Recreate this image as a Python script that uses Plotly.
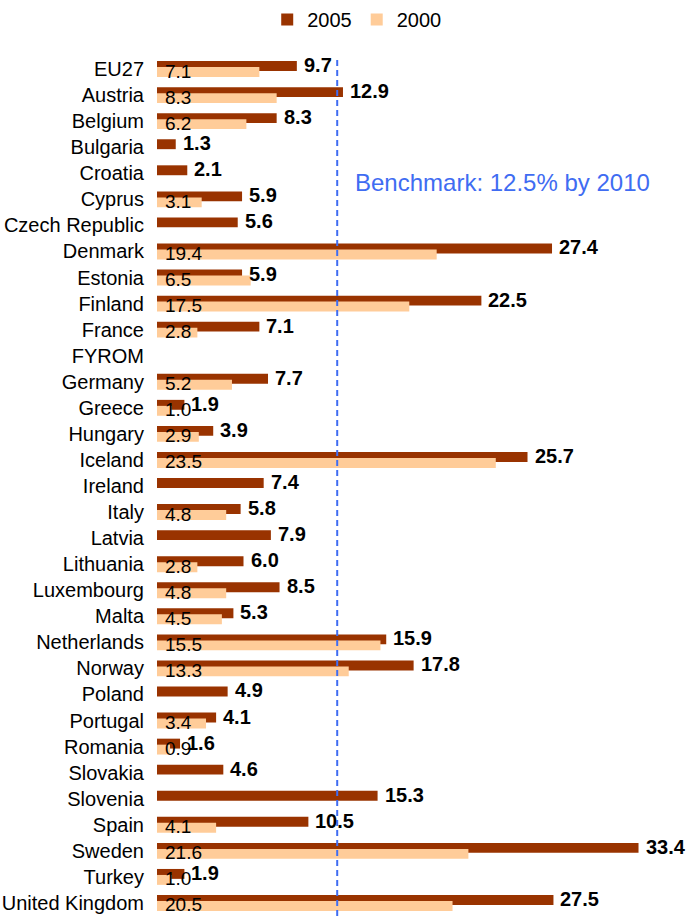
import plotly.graph_objects as go

# Countries, top to bottom
countries = [
    "EU27", "Austria", "Belgium", "Bulgaria", "Croatia", "Cyprus", "Czech Republic",
    "Denmark", "Estonia", "Finland", "France", "FYROM", "Germany", "Greece", "Hungary",
    "Iceland", "Ireland", "Italy", "Latvia", "Lithuania", "Luxembourg", "Malta",
    "Netherlands", "Norway", "Poland", "Portugal", "Romania", "Slovakia", "Slovenia",
    "Spain", "Sweden", "Turkey", "United Kingdom",
]

# Participation values (%), None where not available
values_2005 = [
    9.7, 12.9, 8.3, 1.3, 2.1, 5.9, 5.6,
    27.4, 5.9, 22.5, 7.1, None, 7.7, 1.9, 3.9,
    25.7, 7.4, 5.8, 7.9, 6.0, 8.5, 5.3,
    15.9, 17.8, 4.9, 4.1, 1.6, 4.6, 15.3,
    10.5, 33.4, 1.9, 27.5,
]
values_2000 = [
    7.1, 8.3, 6.2, None, None, 3.1, None,
    19.4, 6.5, 17.5, 2.8, None, 5.2, 1.0, 2.9,
    23.5, None, 4.8, None, 2.8, 4.8, 4.5,
    15.5, 13.3, None, 3.4, 0.9, None, None,
    4.1, 21.6, 1.0, 20.5,
]

benchmark = 12.5
benchmark_text = "Benchmark: 12.5% by 2010"

FONT = "Liberation Sans, Arial, sans-serif"
DARK = "#993300"
LIGHT = "#FFCC99"
BLUE = "#3F6CF2"

positions = list(range(len(countries)))

fig = go.Figure()
fig.add_trace(go.Bar(
    name="2005", y=positions, x=values_2005, orientation="h",
    marker=dict(color=DARK, line=dict(width=0)),
    width=0.38, offset=-0.305,
))
fig.add_trace(go.Bar(
    name="2000", y=positions, x=values_2000, orientation="h",
    marker=dict(color=LIGHT, line=dict(width=0)),
    width=0.38, offset=-0.075,
))

annotations = []
# 2005 values, bold, just past the end of the bar
for p, v in zip(positions, values_2005):
    if v is None:
        continue
    annotations.append(dict(
        x=v, y=p, xref="x", yref="y", text=f"{v:.1f}", showarrow=False,
        xanchor="left", yanchor="middle", xshift=5, yshift=4,
        font=dict(family=FONT, size=20, color="#000000", weight="bold"),
    ))
# 2000 values, inside the bar at its base
for p, v in zip(positions, values_2000):
    if v is None:
        continue
    annotations.append(dict(
        x=0, y=p, xref="x", yref="y", text=f"{v:.1f}", showarrow=False,
        xanchor="left", yanchor="middle", xshift=6, yshift=-2,
        font=dict(family=FONT, size=19, color="#000000"),
    ))
# Benchmark caption
annotations.append(dict(
    x=13.6, y=4.36, xref="x", yref="y", text=benchmark_text, showarrow=False,
    xanchor="left", yanchor="middle",
    font=dict(family=FONT, size=24, color=BLUE),
))

fig.update_layout(
    width=686, height=918,
    margin=dict(l=157, r=10, t=56, b=2),
    paper_bgcolor="white", plot_bgcolor="white",
    barmode="overlay",
    showlegend=True,
    legend=dict(
        orientation="h", xref="container", yref="container",
        x=0.52, xanchor="center", y=1.0, yanchor="top",
        font=dict(family=FONT, size=20, color="#000000"),
        itemwidth=30, traceorder="normal",
    ),
    annotations=annotations,
    shapes=[dict(
        type="line", xref="x", yref="paper", x0=benchmark, x1=benchmark, y0=0, y1=1,
        line=dict(color=BLUE, width=2, dash="6px,4px"),
    )],
    font=dict(family=FONT),
)
fig.update_xaxes(range=[0, 36], visible=False, showgrid=False, zeroline=False)
fig.update_yaxes(
    range=[len(countries) - 0.5, -0.5],
    tickmode="array", tickvals=positions, ticktext=countries,
    showgrid=False, zeroline=False, showline=False, ticks="",
    ticklabelstandoff=12,
    tickfont=dict(family=FONT, size=20, color="#000000"),
)

fig.write_html("out.html")
